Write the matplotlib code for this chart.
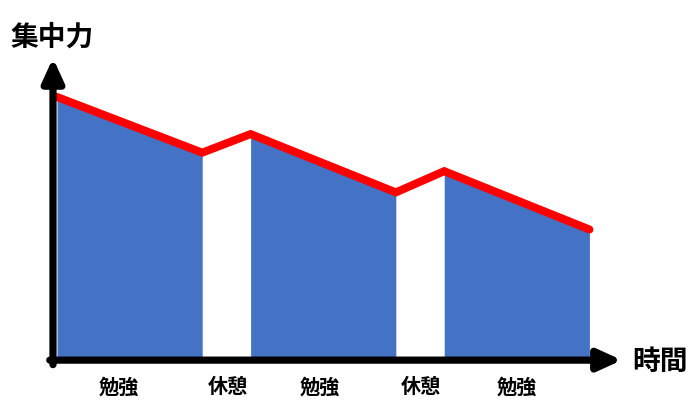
import matplotlib
matplotlib.use('Agg')
from matplotlib import pyplot as plt

plt.rcParams['font.family'] = ['Noto Sans CJK JP', 'DejaVu Sans']

# time points (study 3 units, break 1 unit) and concentration
time = [0, 3, 4, 7, 8, 11]
focus = [100, 79, 86, 64, 72, 50]
study_spans = [(0, 1), (2, 3), (4, 5)]  # index pairs into time/focus
phase_labels = ['勉強', '休憩', '勉強', '休憩', '勉強']
label_x = [1.28, 3.53, 5.43, 7.52, 9.5]

blue = '#4472C4'

fig = plt.figure(figsize=(7, 4.16), dpi=100)
ax = fig.add_axes([0, 0, 1, 1])
ax.set_xlim(-1.178, 13.285)
ax.set_ylim(-20.38, 136.6)
ax.axis('off')

for i, j in study_spans:
    ax.fill_between(time[i:j + 1], 0, focus[i:j + 1], color=blue, lw=0)

ax.plot(time, focus, color='#FF0000', lw=5.8, solid_capstyle='round',
        solid_joinstyle='miter', zorder=3)

# axes arrows
arrow = dict(arrowstyle='-|>,head_length=0.7,head_width=0.32', lw=5.2,
             color='black', mutation_scale=20, shrinkA=0, shrinkB=0)
ax.annotate('', xy=(-0.083, 114.7), xytext=(-0.083, -1.0), arrowprops=arrow, zorder=4)
ax.annotate('', xy=(11.67, 0.7), xytext=(-0.15, 0.7), arrowprops=arrow, zorder=4)

ax.text(-0.1, 122.3, '集中力', fontsize=20, fontweight='bold',
        ha='center', va='center')
ax.text(12.46, 0, '時間', fontsize=20, fontweight='bold',
        ha='center', va='center')

for x, lab in zip(label_x, phase_labels):
    ax.text(x, -9.4, lab, fontsize=14.5, fontweight='bold',
            ha='center', va='center')

fig.savefig('out.png', dpi=100)
